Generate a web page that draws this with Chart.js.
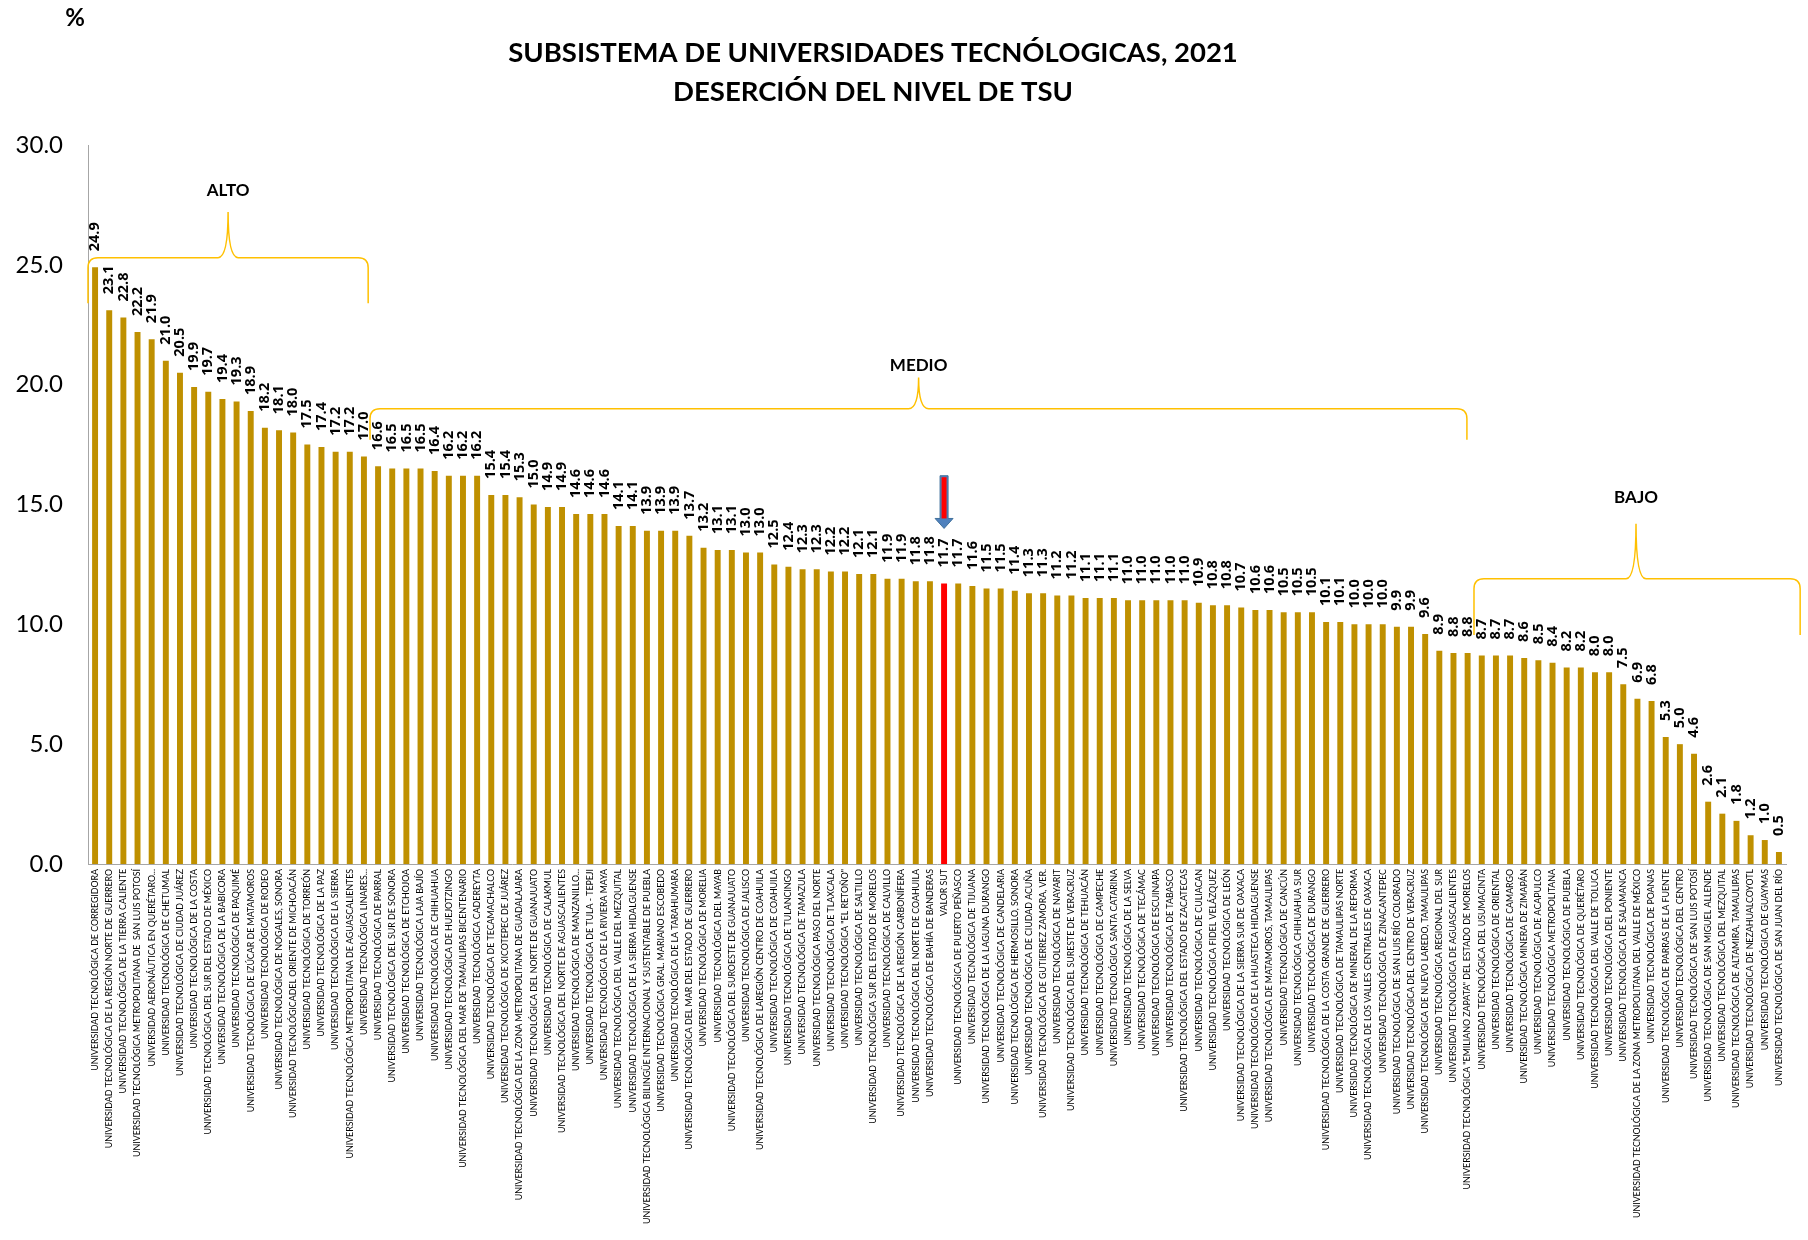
<!DOCTYPE html>
<html>
<head>
<meta charset="utf-8">
<script src="https://cdn.jsdelivr.net/npm/chart.js@4.4.1/dist/chart.umd.min.js"></script>
<style>
  html, body { margin: 0; padding: 0; background: #fff; }
  #wrap { width: 1808px; height: 1240px; position: relative; }
</style>
</head>
<body>
<div id="wrap"><canvas id="barChart"></canvas></div>
<script>
// Universidades (eje X)
const categories = [
  'UNIVERSIDAD TECNOLÓGICA DE CORREGIDORA',
  'UNIVERSIDAD TECNOLÓGICA DE LA REGIÓN NORTE DE GUERRERO',
  'UNIVERSIDAD TECNOLÓGICA DE LA TIERRA CALIENTE',
  'UNIVERSIDAD TECNOLÓGICA METROPOLITANA DE  SAN LUIS POTOSÍ',
  'UNIVERSIDAD AERONÁUTICA EN QUERÉTARO...',
  'UNIVERSIDAD TECNOLÓGICA DE CHETUMAL',
  'UNIVERSIDAD TECNOLÓGICA DE CIUDAD JUÁREZ',
  'UNIVERSIDAD TECNOLÓGICA DE LA COSTA',
  'UNIVERSIDAD TECNOLÓGICA DEL SUR DEL ESTADO DE MÉXICO',
  'UNIVERSIDAD TECNOLÓGICA DE LA BABICORA',
  'UNIVERSIDAD TECNOLÓGICA DE PAQUIMÉ',
  'UNIVERSIDAD TECNOLÓGICA DE IZÚCAR DE MATAMOROS',
  'UNIVERSIDAD TECNOLÓGICA DE RODEO',
  'UNIVERSIDAD TECNOLÓGICA DE NOGALES, SONORA',
  'UNIVERSIDAD TECNOLÓGICADEL ORIENTE DE MICHOACÁN',
  'UNIVERSIDAD TECNOLÓGICA DE TORREÓN',
  'UNIVERSIDAD TECNOLÓGICA DE LA PAZ',
  'UNIVERSIDAD TECNOLÓGICA DE LA SIERRA',
  'UNIVERSIDAD TECNOLÓGICA METROPOLITANA DE AGUASCALIENTES',
  'UNIVERSIDAD TECNOLÓGICA LINARES...',
  'UNIVERSIDAD TECNOLÓGICA DE PARRAL',
  'UNIVERSIDAD TECNOLÓGICA DEL SUR DE SONORA',
  'UNIVERSIDAD TECNOLÓGICA DE ETCHOJOA',
  'UNIVERSIDAD TECNOLÓGICA LAJA BAJÍO',
  'UNIVERSIDAD TECNOLÓGICA DE CHIHUAHUA',
  'UNIVERSIDAD TECNOLÓGICA DE HUEJOTZINGO',
  'UNIVERSIDAD TECNOLÓGICA DEL MAR DE TAMAULIPAS BICENTENARIO',
  'UNIVERSIDAD TECNOLÓGICA CADEREYTA',
  'UNIVERSIDAD TECNOLÓGICA DE TECAMACHALCO',
  'UNIVERSIDAD TECNOLÓGICA DE XICOTEPEC DE JUÁREZ',
  'UNIVERSIDAD TECNOLÓGICA DE LA ZONA METROPOLITANA DE GUADALAJARA',
  'UNIVERSIDAD TECNOLÓGICA DEL NORTE DE GUANAJUATO',
  'UNIVERSIDAD TECNOLÓGICA DE CALAKMUL',
  'UNIVERSIDAD TECNOLÓGICA DEL NORTE DE AGUASCALIENTES',
  'UNIVERSIDAD TECNOLÓGICA DE MANZANILLO...',
  'UNIVERSIDAD TECNOLÓGICA DE TULA - TEPEJI',
  'UNIVERSIDAD TECNOLÓGICA DE LA RIVIERA MAYA',
  'UNIVERSIDAD TECNOLÓGICA DEL VALLE DEL MEZQUITAL',
  'UNIVERSIDAD TECNOLÓGICA DE LA SIERRA HIDALGUENSE',
  'UNIVERSIDAD TECNOLÓGICA BILINGÜE INTERNACIONAL Y SUSTENTABLE DE PUEBLA',
  'UNIVERSIDAD TECNOLÓGICA GRAL. MARIANO ESCOBEDO',
  'UNIVERSIDAD TECNOLÓGICA DE LA TARAHUMARA',
  'UNIVERSIDAD TECNOLÓGICA DEL MAR DEL ESTADO DE GUERRERO',
  'UNIVERSIDAD TECNOLÓGICA DE MORELIA',
  'UNIVERSIDAD TECNOLÓGICA DEL MAYAB',
  'UNIVERSIDAD TECNOLÓGICA DEL SUROESTE DE GUANAJUATO',
  'UNIVERSIDAD TECNOLÓGICA DE JALISCO',
  'UNIVERSIDAD TECNOLÓGICA DE LAREGIÓN CENTRO DE COAHUILA',
  'UNIVERSIDAD TECNOLÓGICA DE COAHUILA',
  'UNIVERSIDAD TECNOLÓGICA DE TULANCINGO',
  'UNIVERSIDAD TECNOLÓGICA DE TAMAZULA',
  'UNIVERSIDAD TECNOLÓGICA PASO DEL NORTE',
  'UNIVERSIDAD TECNOLÓGICA DE TLAXCALA',
  'UNIVERSIDAD TECNOLÓGICA "EL RETOÑO"',
  'UNIVERSIDAD TECNOLÓGICA DE SALTILLO',
  'UNIVERSIDAD TECNOLÓGICA SUR DEL ESTADO DE MORELOS',
  'UNIVERSIDAD TECNOLÓGICA DE CALVILLO',
  'UNIVERSIDAD TECNOLÓGICA DE LA REGIÓN CARBONÍFERA',
  'UNIVERSIDAD TECNOLÓGICA DEL NORTE DE COAHUILA',
  'UNIVERSIDAD TECNOLÓGICA DE BAHÍA DE BANDERAS',
  'VALOR SUT',
  'UNIVERSIDAD TECNOLÓGICA DE PUERTO PEÑASCO',
  'UNIVERSIDAD TECNOLÓGICA DE TIJUANA',
  'UNIVERSIDAD TECNOLÓGICA DE LA LAGUNA DURANGO',
  'UNIVERSIDAD TECNOLÓGICA DE CANDELARIA',
  'UNIVERSIDAD TECNOLÓGICA DE HERMOSILLO, SONORA',
  'UNIVERSIDAD TECNOLÓGICA DE CIUDAD ACUÑA',
  'UNIVERSIDAD TECNOLÓGICA DE GUTIERREZ ZAMORA, VER.',
  'UNIVERSIDAD TECNOLÓGICA DE NAYARIT',
  'UNIVERSIDAD TECNOLÓGICA DEL SURESTE DE VERACRUZ',
  'UNIVERSIDAD TECNOLÓGICA DE TEHUACÁN',
  'UNIVERSIDAD TECNOLÓGICA DE CAMPECHE',
  'UNIVERSIDAD TECNOLÓGICA SANTA CATARINA',
  'UNIVERSIDAD TECNOLÓGICA DE LA SELVA',
  'UNIVERSIDAD TECNOLÓGICA DE TECÁMAC',
  'UNIVERSIDAD TECNOLÓGICA DE ESCUINAPA',
  'UNIVERSIDAD TECNOLÓGICA DE TABASCO',
  'UNIVERSIDAD TECNOLÓGICA DEL ESTADO DE ZACATECAS',
  'UNIVERSIDAD TECNOLÓGICA DE CULIACAN',
  'UNIVERSIDAD TECNOLÓGICA FIDEL VELÁZQUEZ',
  'UNIVERSIDAD TECNOLÓGICA DE LEÓN',
  'UNIVERSIDAD TECNOLÓGICA DE LA SIERRA SUR DE OAXACA',
  'UNIVERSIDAD TECNOLÓGICA DE LA HUASTECA HIDALGUENSE',
  'UNIVERSIDAD TECNOLÓGICA DE MATAMOROS, TAMAULIPAS',
  'UNIVERSIDAD TECNOLÓGICA DE CANCÚN',
  'UNIVERSIDAD TECNOLÓGICA CHIHUAHUA SUR',
  'UNIVERSIDAD TECNOLÓGICA DE DURANGO',
  'UNIVERSIDAD TECNOLÓGICA DE LA COSTA GRANDE DE GUERRERO',
  'UNIVERSIDAD TECNOLÓGICA DE TAMAULIPAS NORTE',
  'UNIVERSIDAD TECNOLÓGICA DE MINERAL DE LA REFORMA',
  'UNIVERSIDAD TECNOLÓGICA DE LOS VALLES CENTRALES DE OAXACA',
  'UNIVERSIDAD TECNOLÓGICA DE ZINACANTEPEC',
  'UNIVERSIDAD TECNOLÓGICA DE SAN LUIS RÍO COLORADO',
  'UNIVERSIDAD TECNOLÓGICA DEL CENTRO DE VERACRUZ',
  'UNIVERSIDAD TECNOLÓGICA DE NUEVO LAREDO, TAMAULIPAS',
  'UNIVERSIDAD TECNOLÓGICA REGIONAL DEL SUR',
  'UNIVERSIDAD TECNOLÓGICA DE AGUASCALIENTES',
  'UNIVERSIDAD TECNOLÓGICA "EMILIANO ZAPATA" DEL ESTADO DE MORELOS',
  'UNIVERSIDAD TECNOLÓGICA DEL USUMACINTA',
  'UNIVERSIDAD TECNOLÓGICA DE ORIENTAL',
  'UNIVERSIDAD TECNOLÓGICA DE CAMARGO',
  'UNIVERSIDAD TECNOLÓGICA MINERA DE ZIMAPÁN',
  'UNIVERSIDAD TECNOLÓGICA DE ACAPULCO',
  'UNIVERSIDAD TECNOLÓGICA METROPOLITANA',
  'UNIVERSIDAD TECNOLÓGICA DE PUEBLA',
  'UNIVERSIDAD TECNOLÓGICA DE QUERÉTARO',
  'UNIVERSIDAD TECNOLÓGICA DEL VALLE DE TOLUCA',
  'UNIVERSIDAD TECNOLÓGICA DEL PONIENTE',
  'UNIVERSIDAD TECNOLÓGICA DE SALAMANCA',
  'UNIVERSIDAD TECNOLÓGICA DE LA ZONA METROPOLITANA DEL VALLE DE MÉXICO',
  'UNIVERSIDAD TECNOLÓGICA DE POANAS',
  'UNIVERSIDAD TECNOLÓGICA DE PARRAS DE LA FUENTE',
  'UNIVERSIDAD TECNOLÓGICA DEL CENTRO',
  'UNIVERSIDAD TECNOLÓGICA DE SAN LUIS POTOSÍ',
  'UNIVERSIDAD TECNOLÓGICA DE SAN MIGUEL ALLENDE',
  'UNIVERSIDAD TECNOLÓGICA DEL MEZQUITAL',
  'UNIVERSIDAD TECNOLÓGICA DE ALTAMIRA, TAMAULIPAS',
  'UNIVERSIDAD TECNOLÓGICA DE NEZAHUALCOYOTL',
  'UNIVERSIDAD TECNOLÓGICA DE GUAYMAS',
  'UNIVERSIDAD TECNOLÓGICA DE SAN JUAN DEL RÍO'
];

// Deserción (%)
const values = [
  24.9, 23.1, 22.8, 22.2, 21.9, 21.0, 20.5, 19.9, 19.7, 19.4,
  19.3, 18.9, 18.2, 18.1, 18.0, 17.5, 17.4, 17.2, 17.2, 17.0,
  16.6, 16.5, 16.5, 16.5, 16.4, 16.2, 16.2, 16.2, 15.4, 15.4,
  15.3, 15.0, 14.9, 14.9, 14.6, 14.6, 14.6, 14.1, 14.1, 13.9,
  13.9, 13.9, 13.7, 13.2, 13.1, 13.1, 13.0, 13.0, 12.5, 12.4,
  12.3, 12.3, 12.2, 12.2, 12.1, 12.1, 11.9, 11.9, 11.8, 11.8,
  11.7, 11.7, 11.6, 11.5, 11.5, 11.4, 11.3, 11.3, 11.2, 11.2,
  11.1, 11.1, 11.1, 11.0, 11.0, 11.0, 11.0, 11.0, 10.9, 10.8,
  10.8, 10.7, 10.6, 10.6, 10.5, 10.5, 10.5, 10.1, 10.1, 10.0,
  10.0, 10.0, 9.9, 9.9, 9.6, 8.9, 8.8, 8.8, 8.7, 8.7,
  8.7, 8.6, 8.5, 8.4, 8.2, 8.2, 8.0, 8.0, 7.5, 6.9,
  6.8, 5.3, 5.0, 4.6, 2.6, 2.1, 1.8, 1.2, 1.0, 0.5
];

const yTickValues = [0, 5, 10, 15, 20, 25, 30];

const groupNames = ['ALTO', 'MEDIO', 'BAJO'];

const sutIndex = categories.indexOf('VALOR SUT');
const barColors = categories.map((c, i) => i === sutIndex ? '#FF0000' : '#BF9000');

// Llaves de agrupación (posiciones en unidades de categoría / valor)
const braces = [
  { from: -0.5, to: 19.3, tip: 9.4, yLine: 25.3, yEnd: 23.4, yTip: 27.2, yText: 28.1 },
  { from: 19.43, to: 96.95, tip: 58.2, yLine: 19.0, yEnd: 17.7, yTip: 20.3, yText: 20.8 },
  { from: 97.45, to: 120.5, tip: 108.9, yLine: 11.9, yEnd: 9.55, yTip: 14.2, yText: 15.3 }
];

const decorPlugin = {
    id: 'decor',
    afterDatasetsDraw(chart) {
        const ctx = chart.ctx;
        const x = chart.scales.x;
        const y = chart.scales.y;
        const meta = chart.getDatasetMeta(0);

        // etiquetas de valor
        ctx.save();
        ctx.fillStyle = '#000';
        ctx.font = 'bold 14.5px "Open Sans"';
        ctx.textAlign = 'left';
        ctx.textBaseline = 'middle';
        meta.data.forEach(function(bar, i) {
            ctx.save();
            ctx.translate(bar.x, bar.y - 16);
            ctx.rotate(-Math.PI / 2);
            ctx.fillText(values[i].toFixed(1), 0, 0);
            ctx.restore();
        });
        ctx.restore();

        // llaves
        ctx.save();
        ctx.strokeStyle = '#FFC000';
        ctx.lineWidth = 1.5;
        ctx.fillStyle = '#000';
        ctx.font = 'bold 17px Lato';
        ctx.textAlign = 'center';
        ctx.textBaseline = 'middle';
        braces.forEach(function(b, i) {
            const x1 = x.getPixelForValue(b.from);
            const x2 = x.getPixelForValue(b.to);
            const xt = x.getPixelForValue(b.tip);
            const yl = y.getPixelForValue(b.yLine);
            const ye = y.getPixelForValue(b.yEnd);
            const yt = y.getPixelForValue(b.yTip);
            const r = 10;
            ctx.beginPath();
            ctx.moveTo(x1, ye);
            ctx.lineTo(x1, yl + r);
            ctx.quadraticCurveTo(x1, yl, x1 + r, yl);
            ctx.lineTo(xt - r, yl);
            ctx.quadraticCurveTo(xt, yl, xt, yt);
            ctx.quadraticCurveTo(xt, yl, xt + r, yl);
            ctx.lineTo(x2 - r, yl);
            ctx.quadraticCurveTo(x2, yl, x2, yl + r);
            ctx.lineTo(x2, ye);
            ctx.stroke();
            ctx.fillText(groupNames[i], xt, y.getPixelForValue(b.yText));
        });
        ctx.restore();

        // flecha sobre VALOR SUT
        const sx = meta.data[sutIndex].x;
        const top = y.getPixelForValue(16.2);
        const bot = y.getPixelForValue(14.0);
        const sw = 4, hw = 9, hh = 10;
        ctx.save();
        ctx.beginPath();
        ctx.moveTo(sx - sw, top);
        ctx.lineTo(sx + sw, top);
        ctx.lineTo(sx + sw, bot - hh);
        ctx.lineTo(sx + hw, bot - hh);
        ctx.lineTo(sx, bot);
        ctx.lineTo(sx - hw, bot - hh);
        ctx.lineTo(sx - sw, bot - hh);
        ctx.closePath();
        ctx.fillStyle = '#4F81BD';
        ctx.fill();
        ctx.fillStyle = '#FF0000';
        ctx.fillRect(sx - sw + 1.5, top + 1.5, (sw - 1.5) * 2, bot - hh - top - 1.5);
        ctx.strokeStyle = '#41719C';
        ctx.lineWidth = 1;
        ctx.stroke();
        ctx.restore();

        // título y unidad
        ctx.save();
        ctx.fillStyle = '#000';
        ctx.textAlign = 'center';
        ctx.textBaseline = 'middle';
        ctx.font = 'bold 27.5px Lato';
        ctx.fillText('SUBSISTEMA DE UNIVERSIDADES TECNÓLOGICAS, 2021', 873, 53);
        ctx.fillText('DESERCIÓN DEL NIVEL DE TSU', 873, 92);
        ctx.font = 'bold 24px Lato';
        ctx.fillText('%', 75, 18);
        ctx.restore();
    }
};

document.addEventListener('DOMContentLoaded', function() {
    const ctx = document.getElementById('barChart').getContext('2d');
    new Chart(ctx, {
        type: 'bar',
        data: {
            labels: categories,
            datasets: [{
                data: values,
                backgroundColor: barColors,
                barPercentage: 0.42,
                categoryPercentage: 1
            }]
        },
        options: {
            responsive: true,
            maintainAspectRatio: false,
            animation: false,
            layout: {
                padding: { left: 0, right: 22, top: 145, bottom: 0 }
            },
            scales: {
                x: {
                    grid: { display: false, drawTicks: false },
                    border: { display: true, color: '#A6A6A6', width: 1 },
                    ticks: {
                        autoSkip: false,
                        maxRotation: 90,
                        minRotation: 90,
                        padding: 5,
                        color: '#000',
                        font: { family: 'Lato', size: 8.8 }
                    },
                    afterFit: function(scale) { scale.height = 376; }
                },
                y: {
                    min: 0,
                    max: 30,
                    afterBuildTicks: function(scale) {
                        scale.ticks = yTickValues.map(v => ({ value: v }));
                    },
                    grid: { display: false, drawTicks: false },
                    border: { display: true, color: '#A6A6A6', width: 1 },
                    ticks: {
                        padding: 25,
                        color: '#000',
                        font: { family: 'Lato', size: 24 },
                        callback: v => v.toFixed(1)
                    },
                    afterFit: function(scale) { scale.width = 88; }
                }
            },
            plugins: {
                legend: { display: false },
                tooltip: { enabled: false }
            }
        },
        plugins: [decorPlugin]
    });
});
</script>
</body>
</html>
